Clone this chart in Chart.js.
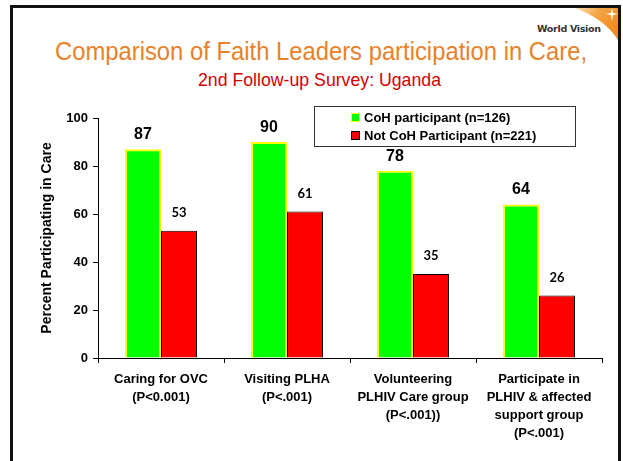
<!DOCTYPE html>
<html>
<head>
<meta charset="utf-8">
<script src="https://cdn.jsdelivr.net/npm/chart.js@4/dist/chart.umd.min.js"></script>
<style>
  html, body { margin: 0; padding: 0; background: #fff; width: 623px; height: 461px; overflow: hidden; }
  #frame { position: absolute; left: 10px; top: 5px; width: 605px; height: 470px;
           border: 3px solid #111; border-bottom: none; }
  #logo { position: absolute; left: 0; top: 0; }
  #wv { position: absolute; left: 537px; top: 23px; font: bold 9.5px "DejaVu Sans", sans-serif;
        color: #333; letter-spacing: -0.3px; }
  .narrow { position: absolute; white-space: nowrap; transform-origin: 0 0;
            font-family: "Liberation Sans", Arial, sans-serif; line-height: 1; }
  #title { left: 55px; top: 38px; font-size: 26.5px; color: #E8822A; }
  #subtitle { left: 198px; top: 71px; font-size: 18.5px; color: #D40000; }
  canvas { position: absolute; left: 0; top: 0; }
</style>
</head>
<body>
<div id="frame"></div>
<svg id="logo" width="623" height="461">
  <defs>
    <linearGradient id="sw" x1="0" y1="0" x2="1" y2="0.6">
      <stop offset="0" stop-color="#FCE3BF"/>
      <stop offset="0.45" stop-color="#F5A646"/>
      <stop offset="1" stop-color="#EE8A1E"/>
    </linearGradient>
  </defs>
  <path d="M574,8 L618,8 L618,40 Q604,18 574,8 Z" fill="url(#sw)"/>
  <path d="M612,8 L613,13 L618,14 L613,15 L612,21 L611,15 L606,14 L611,13 Z" fill="#fff"/>
</svg>
<div id="wv">World Vision</div>
<span id="title" class="narrow" data-w="532">Comparison of Faith Leaders participation in Care,</span>
<span id="subtitle" class="narrow" data-w="243">2nd Follow-up Survey: Uganda</span>
<canvas id="chart" width="623" height="461"></canvas>
<script>
// ---- data ----
const categories = [
    ['Caring for OVC', '(P<0.001)'],
    ['Visiting PLHA', '(P<.001)'],
    ['Volunteering', 'PLHIV Care group', '(P<.001))'],
    ['Participate in', 'PLHIV & affected', 'support group', '(P<.001)']
];
const seriesNames = ['CoH participant (n=126)', 'Not CoH Participant (n=221)'];
const cohValues = [87, 90, 78, 64];
const notCohValues = [53, 61, 35, 26];
const yTicks = [0, 20, 40, 60, 80, 100];

(function () {
    'use strict';

    const ARIAL = '"Liberation Sans", Arial, sans-serif';

    // squeeze the headings to look like a narrow face (no narrow font installed)
    document.querySelectorAll('.narrow').forEach(function (el) {
        const k = Number(el.getAttribute('data-w')) / el.getBoundingClientRect().width;
        el.style.transform = 'scaleX(' + k + ')';
    });

    // value labels above each bar
    const valueLabels = {
        id: 'valueLabels',
        afterDatasetsDraw: function (chart) {
            const ctx = chart.ctx;
            ctx.save();
            ctx.fillStyle = '#000';
            ctx.textAlign = 'center';
            ctx.textBaseline = 'alphabetic';
            chart.data.datasets.forEach(function (ds, di) {
                const meta = chart.getDatasetMeta(di);
                meta.data.forEach(function (bar, i) {
                    if (di === 0) {
                        ctx.font = 'bold 16px ' + ARIAL;
                        ctx.fillText(ds.data[i], bar.x, bar.y - 10);
                    } else {
                        ctx.font = 'bold 13px Lato, "DejaVu Sans", sans-serif';
                        ctx.fillText(ds.data[i], bar.x, bar.y - 14);
                    }
                });
            });
            ctx.restore();
        }
    };

    // boxed legend inside the plot, top right
    const boxLegend = {
        id: 'boxLegend',
        afterDraw: function (chart) {
            const ctx = chart.ctx;
            ctx.save();
            ctx.fillStyle = '#fff';
            ctx.fillRect(314, 106, 261, 40);
            ctx.strokeStyle = '#333';
            ctx.lineWidth = 1;
            ctx.strokeRect(314.5, 106.5, 261, 40);
            ctx.font = 'bold 13px ' + ARIAL;
            ctx.textBaseline = 'middle';
            ctx.textAlign = 'left';
            chart.data.datasets.forEach(function (ds, i) {
                const y = 113 + i * 18;
                ctx.fillStyle = ds.backgroundColor;
                ctx.fillRect(351, y, 9, 9);
                ctx.strokeStyle = i === 0 ? '#FFFF00' : '#000';
                ctx.strokeRect(351.5, y + 0.5, 8, 8);
                ctx.fillStyle = '#000';
                ctx.fillText(ds.label, 364, y + 5);
            });
            ctx.restore();
        }
    };

    new Chart(document.getElementById('chart'), {
        type: 'bar',
        data: {
            labels: categories,
            datasets: [{
                label: seriesNames[0],
                data: cohValues,
                backgroundColor: '#00FF00',
                borderColor: '#FFFF00',
                borderWidth: 2,
                categoryPercentage: 0.572,
                barPercentage: 1
            }, {
                label: seriesNames[1],
                data: notCohValues,
                backgroundColor: '#FF0000',
                borderColor: '#000',
                borderWidth: 1,
                categoryPercentage: 0.572,
                barPercentage: 1
            }]
        },
        options: {
            responsive: false,
            animation: false,
            layout: { padding: { top: 118, right: 21, left: 0, bottom: 0 } },
            plugins: {
                legend: { display: false },
                tooltip: { enabled: false }
            },
            scales: {
                x: {
                    grid: { offset: true, drawOnChartArea: false, tickLength: 5, color: '#000' },
                    border: { color: '#000' },
                    ticks: {
                        color: '#000', padding: 8, maxRotation: 0, autoSkip: false,
                        font: { family: ARIAL, size: 13, weight: 'bold', lineHeight: 1.37 }
                    },
                    afterFit: function (s) { s.height = 103; }
                },
                y: {
                    min: 0, max: 100,
                    afterBuildTicks: function (s) {
                        s.ticks = yTicks.map(function (v) { return { value: v }; });
                    },
                    grid: { drawOnChartArea: false, tickLength: 5, color: '#000' },
                    border: { color: '#000' },
                    ticks: {
                        color: '#000', padding: 5,
                        font: { family: ARIAL, size: 13, weight: 'bold' }
                    },
                    title: {
                        display: true, text: 'Percent Participating in Care', color: '#000',
                        font: { family: ARIAL, size: 14, weight: 'bold' },
                        padding: { top: 39, bottom: 0 }
                    },
                    afterFit: function (s) { s.width = 98; }
                }
            }
        },
        plugins: [valueLabels, boxLegend]
    });
})();
</script>
</body>
</html>
